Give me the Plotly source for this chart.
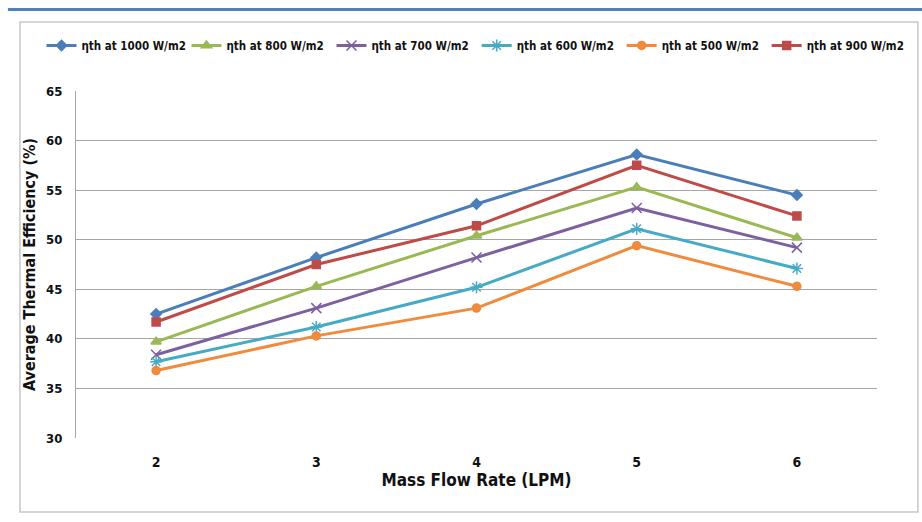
import plotly.graph_objects as go

flow = ["2", "3", "4", "5", "6"]
eta_1000 = [42.5, 48.2, 53.6, 58.6, 54.5]
eta_800 = [39.7, 45.3, 50.4, 55.3, 50.2]
eta_700 = [38.4, 43.1, 48.2, 53.2, 49.2]
eta_600 = [37.7, 41.2, 45.2, 51.1, 47.1]
eta_500 = [36.8, 40.3, 43.1, 49.4, 45.3]
eta_900 = [41.7, 47.5, 51.4, 57.5, 52.4]

names = ["ηth at 1000 W/m2", "ηth at 800 W/m2", "ηth at 700 W/m2",
         "ηth at 600 W/m2", "ηth at 500 W/m2", "ηth at 900 W/m2"]
series = [eta_1000, eta_800, eta_700, eta_600, eta_500, eta_900]
colors = ["#4A7EBB", "#98B954", "#7D60A0", "#46AAC5", "#F08A3C", "#BE4B48"]
symbols = ["diamond", "triangle-up", "x-thin-open", "asterisk-open", "circle", "square"]
sizes = [8, 9, 10, 10, 8, 8]
legend_ids = ["legend", "legend", "legend", "legend2", "legend2", "legend2"]

FONT = "DejaVu Sans Condensed, Liberation Sans Narrow, sans-serif"

fig = go.Figure()
for n, s, c, sym, sz, lg in zip(names, series, colors, symbols, sizes, legend_ids):
    fig.add_trace(go.Scatter(
        x=flow, y=s, name="<b>" + n + "</b>", mode="lines+markers",
        line=dict(color=c, width=3), legend=lg,
        marker=dict(symbol=sym, size=sz, color=c, line=dict(color=c, width=1.5)),
    ))

leg_common = dict(orientation="h", xref="container", yref="container",
                  xanchor="left", yanchor="middle",
                  entrywidth=100, entrywidthmode="pixels",
                  bgcolor="rgba(0,0,0,0)",
                  font=dict(size=11.5, family=FONT, color="#111"),
                  itemwidth=30, tracegroupgap=0)

fig.update_layout(
    width=922, height=522,
    margin=dict(l=76, r=45, t=91, b=84, autoexpand=False),
    paper_bgcolor="white", plot_bgcolor="white",
    font=dict(family=FONT, color="#222"),
    showlegend=True,
    legend=dict(x=0.045, y=0.913, **leg_common),
    legend2=dict(x=0.517, y=0.913, **leg_common),
    xaxis=dict(type="category", showgrid=False, zeroline=False,
               showline=False, ticks="", ticklen=0, range=[-0.5, 4.5],
               tickprefix="<b>", ticksuffix="</b>", ticklabelstandoff=14,
               tickfont=dict(size=14, family=FONT, color="#111"),
               title=dict(text="<b>Mass Flow Rate (LPM)</b>", standoff=2,
                          font=dict(size=17, family=FONT, color="#111"))),
    yaxis=dict(range=[30, 65], dtick=5, showgrid=True, gridcolor="#A6A6A6",
               gridwidth=1, showline=True, linecolor="#A6A6A6", zeroline=False,
               ticks="", tickprefix="<b>", ticksuffix="</b>", ticklabelstandoff=10,
               tickfont=dict(size=13, family=FONT, color="#111"),
               title=dict(text="<b>Average Thermal Efficiency (%)</b>", standoff=6,
                          font=dict(size=16, family=FONT, color="#111"))),
)

# outer frame like a chart object border
fig.add_shape(type="rect", xref="paper", yref="paper", x0=-0.07, x1=1.051, y0=-0.213, y1=1.199,
              line=dict(color="#C8C8C8", width=1.5), fillcolor="rgba(0,0,0,0)", layer="below")
fig.add_shape(type="line", xref="paper", yref="paper", x0=-0.085, x1=1.06, y0=1.235, y1=1.235,
              line=dict(color="#4F81BD", width=3))

fig.write_html("out.html")
